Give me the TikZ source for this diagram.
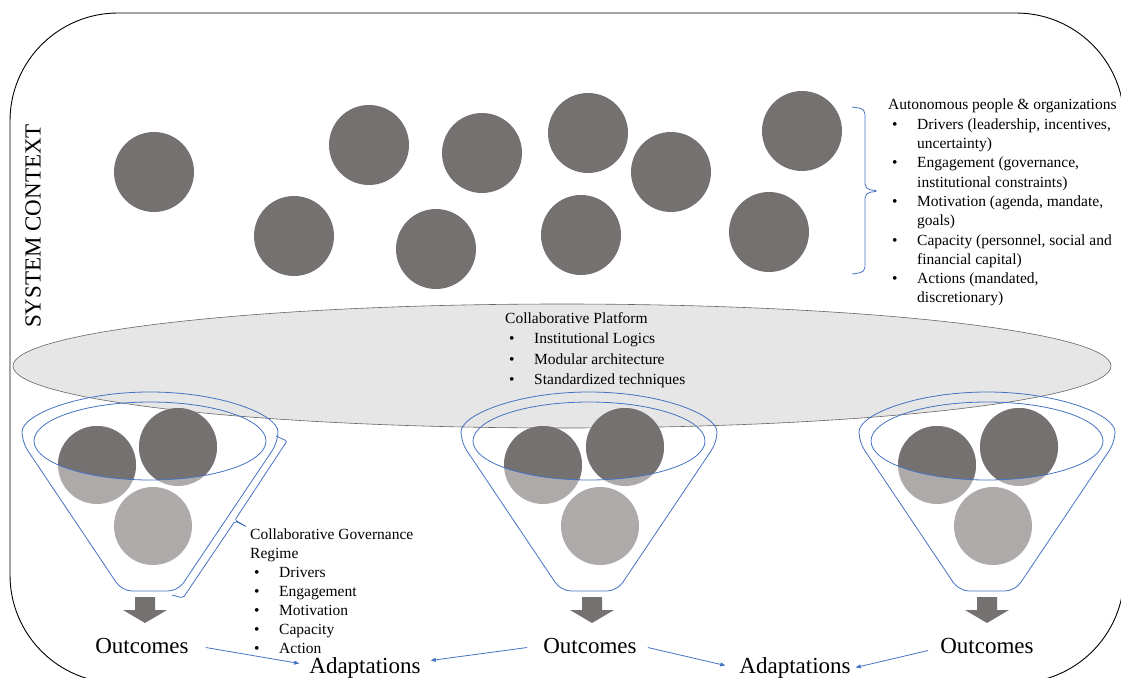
\documentclass[tikz,border=0pt]{standalone}
\usepackage{fontspec}
\setmainfont{Liberation Serif}
\usetikzlibrary{arrows.meta,calc}
\definecolor{dkgray}{RGB}{118,113,113}
\definecolor{ltgray}{RGB}{174,170,170}
\definecolor{platgray}{RGB}{231,230,230}
\definecolor{lineblue}{RGB}{68,114,196}
\newcommand{\itm}{\hspace*{4pt}\makebox[25pt][l]{\textbullet}}
\newcommand{\ind}{\hspace*{29pt}}

\begin{document}
\begin{tikzpicture}[x=1pt,y=-1pt,
  dot/.style={fill=dkgray},
  pale/.style={fill=ltgray},
  thinblue/.style={draw=lineblue,line width=0.8pt},
  flow/.style={lineblue,line width=0.8pt,-{Triangle[length=5pt,width=4pt]}},
  list/.style={align=left,inner sep=0pt,anchor=north west,font=\fontsize{15.5}{19.3}\selectfont},
  big/.style={inner sep=0pt,anchor=base,font=\fontsize{23}{27}\selectfont}]
\useasboundingbox (0,0) rectangle (1121,677);
\clip (0,0) rectangle (1121,677);
% system context frame
\draw[line width=0.9pt,rounded corners=108pt] (10,13) rectangle (1124,683);
\node[rotate=90,font=\fontsize{23}{27}\selectfont] (ctx) at (33,226) {SYSTEM CONTEXT};
% autonomous people and organizations
\foreach \px/\py in {154/172,369/145,482/153,588/133,671/172,802/131,294/236,436/249,581/235,769/232}
  \fill[dot] (\px,\py) circle (40);
\draw[thinblue,rounded corners=5pt] (852,107) -- (865,109) -- (865,189) -- (879,191) -- (865,193) -- (865,272) -- (852,274);
\node[list] (actors) at (888,99) {Autonomous people \& organizations\\
  \itm Drivers (leadership, incentives,\\
  \ind uncertainty)\\
  \itm Engagement (governance,\\
  \ind institutional constraints)\\
  \itm Motivation (agenda, mandate,\\
  \ind goals)\\
  \itm Capacity (personnel, social and\\
  \ind financial capital)\\
  \itm Actions (mandated,\\
  \ind discretionary)};
% collaborative platform
\draw[draw=gray!80!black,fill=platgray,line width=0.6pt] (562,366) ellipse [x radius=549,y radius=62];
\node[list,font=\fontsize{15.5}{20.5}\selectfont] (platform) at (505,312) {Collaborative Platform\\
  \itm Institutional Logics\\
  \itm Modular architecture\\
  \itm Standardized techniques};
% funnels
\foreach \cx/\ax/\bx/\lx in {150/97/178/153,589/543/625/600,987/937/1019/993}{
  \fill[pale] (\ax,465) circle (39) (\bx,447) circle (39) (\lx,526) circle (39);
  \begin{scope}
    \clip (\cx,441) ellipse [x radius=116,y radius=39];
    \fill[dot] (\ax,465) circle (39) (\bx,447) circle (39);
  \end{scope}
  \draw[thinblue] (\cx,441) ellipse [x radius=116,y radius=39];
  \draw[thinblue,rounded corners=10pt] (\cx+128,442) arc[start angle=0,end angle=-180,x radius=128,y radius=50]
    -- (\cx-28,591) -- (\cx+28,591) -- cycle;
}
\foreach \tx in {145,592,987}
  \fill[dot] (\tx-10,597) -- (\tx+10,597) -- (\tx+10,610) -- (\tx+22,610) -- (\tx,623) -- (\tx-22,610) -- (\tx-10,610) -- cycle;
% governance regime
\draw[thinblue,rounded corners=2pt] (276,436) -- (287,441) -- (235,520) -- (247,527) -- (235,521) -- (183,598) -- (172,595);
\node[list,font=\fontsize{15.5}{19}\selectfont] (regime) at (250,529) {Collaborative Governance\\
  Regime\\
  \itm Drivers\\
  \itm Engagement\\
  \itm Motivation\\
  \itm Capacity\\
  \itm Action};
% outcomes and adaptations
\node[big] (out1) at (142,653) {Outcomes};
\node[big] (out2) at (590,653) {Outcomes};
\node[big] (out3) at (987,653) {Outcomes};
\node[big] (ad1) at (365,673) {Adaptations};
\node[big] (ad2) at (795,673) {Adaptations};
\draw[flow] ($(out1.east)+(17,2)$) -- ($(ad1.west)+(-10,-4)$);
\draw[flow] ($(out2.west)+(-16,2)$) -- ($(ad1.east)+(10,-7)$);
\draw[flow] ($(out2.east)+(11,2)$) -- ($(ad2.west)+(-14,-2)$);
\draw[flow] ($(out3.west)+(-12,5)$) -- ($(ad2.east)+(5,0)$);
\end{tikzpicture}
\end{document}
